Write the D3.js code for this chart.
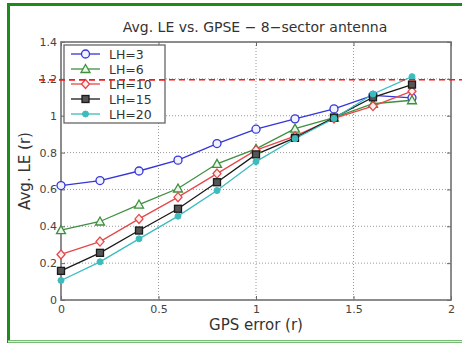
<!DOCTYPE html>
<html>
<head>
<meta charset="utf-8">
<script src="https://cdn.jsdelivr.net/npm/d3@7"></script>
<style>
  body { margin: 0; background: #fff; }
  svg { display: block; font-family: "DejaVu Sans", sans-serif; }
</style>
</head>
<body>
<svg id="chart" width="462" height="344"></svg>
<script>
// data
const gpsError = [0, 0.2, 0.4, 0.6, 0.8, 1.0, 1.2, 1.4, 1.6, 1.8];
const lh3  = [0.621, 0.648, 0.700, 0.759, 0.849, 0.927, 0.983, 1.037, 1.110, 1.097];
const lh6  = [0.379, 0.426, 0.518, 0.605, 0.739, 0.820, 0.930, 0.990, 1.065, 1.084];
const lh10 = [0.247, 0.317, 0.440, 0.558, 0.686, 0.813, 0.889, 0.985, 1.052, 1.133];
const lh15 = [0.158, 0.256, 0.377, 0.495, 0.639, 0.790, 0.880, 0.990, 1.100, 1.169];
const lh20 = [0.106, 0.207, 0.332, 0.455, 0.594, 0.751, 0.875, 0.985, 1.118, 1.212];
const threshold = 1.195;
const xTicks = [0, 0.5, 1, 1.5, 2];
const yTicks = [0, 0.2, 0.4, 0.6, 0.8, 1, 1.2, 1.4];

const series = [
  { name: 'LH=3',  values: lh3,  color: '#3535d8', marker: 'circle' },
  { name: 'LH=6',  values: lh6,  color: '#3f8f3f', marker: 'triangle' },
  { name: 'LH=10', values: lh10, color: '#e5484a', marker: 'diamond' },
  { name: 'LH=15', values: lh15, color: '#1a1a1a', marker: 'square' },
  { name: 'LH=20', values: lh20, color: '#3cbcbc', marker: 'dot' }
];

const svg = d3.select('#chart');
const margin = { top: 42, right: 11, bottom: 44, left: 61 };
const width = 462 - margin.left - margin.right;
const height = 344 - margin.top - margin.bottom;

// green frame round the figure
svg.append('rect')
  .attr('x', 8.5).attr('y', 4.5)
  .attr('width', 470).attr('height', 337)
  .attr('fill', '#fff')
  .attr('stroke', '#1c8a1c')
  .attr('stroke-width', 3);
svg.append('line')
  .attr('x1', 8).attr('x2', 462).attr('y1', 341.5).attr('y2', 341.5)
  .attr('stroke', '#d8ecd8').attr('stroke-width', 2);

const g = svg.append('g').attr('transform', `translate(${margin.left},${margin.top})`);

const x = d3.scaleLinear().domain([0, 2]).range([0, width]);
const y = d3.scaleLinear().domain([0, 1.4]).range([height, 0]);

// dotted grid
g.append('g').selectAll('line')
  .data(xTicks.slice(1, -1))
  .join('line')
  .attr('x1', d => x(d)).attr('x2', d => x(d))
  .attr('y1', 0).attr('y2', height)
  .attr('stroke', '#9a9a9a').attr('stroke-width', 1)
  .attr('stroke-dasharray', '1,2');
g.append('g').selectAll('line')
  .data(yTicks.slice(1, -1))
  .join('line')
  .attr('x1', 0).attr('x2', width)
  .attr('y1', d => y(d)).attr('y2', d => y(d))
  .attr('stroke', '#9a9a9a').attr('stroke-width', 1)
  .attr('stroke-dasharray', '1,2');

// axes, ticks pointing inward
g.append('g').attr('transform', `translate(0,${height})`)
  .call(d3.axisBottom(x).tickValues(xTicks).tickSize(-4).tickPadding(5).tickFormat(d3.format('')));
g.append('g')
  .call(d3.axisLeft(y).tickValues(yTicks).tickSize(-4).tickPadding(4).tickFormat(d3.format('')));
g.append('g').call(d3.axisTop(x).tickValues(xTicks).tickSize(-4).tickFormat(''));
g.append('g').attr('transform', `translate(${width},0)`)
  .call(d3.axisRight(y).tickValues(yTicks).tickSize(-4).tickFormat(''));
g.selectAll('.domain').remove();
g.selectAll('.tick line').attr('stroke', '#666');
g.selectAll('.tick text').attr('fill', '#444').attr('font-size', 11).attr('font-family', '"DejaVu Sans", sans-serif');

g.append('rect')
  .attr('width', width).attr('height', height)
  .attr('fill', 'none').attr('stroke', '#707070').attr('stroke-width', 1.6);

// lines
const line = d3.line().x((d, i) => x(gpsError[i])).y(d => y(d));
series.forEach(s => {
  g.append('path')
    .datum(s.values)
    .attr('fill', 'none')
    .attr('stroke', s.color)
    .attr('stroke-width', 1.3)
    .attr('d', line);
});

function drawMarker(sel, s, cx, cy) {
  const m = sel.append('g').attr('transform', `translate(${cx},${cy})`);
  if (s.marker === 'circle') {
    m.append('circle').attr('r', 4).attr('fill', '#f2f2ff').attr('stroke', s.color).attr('stroke-width', 1.3);
  } else if (s.marker === 'triangle') {
    m.append('path').attr('d', 'M0,-4.5L4.5,3.5L-4.5,3.5Z').attr('fill', '#eaf5ea').attr('stroke', s.color).attr('stroke-width', 1.3);
  } else if (s.marker === 'diamond') {
    m.append('path').attr('d', 'M0,-4.5L4,0L0,4.5L-4,0Z').attr('fill', '#fdeeee').attr('stroke', s.color).attr('stroke-width', 1.3);
  } else if (s.marker === 'square') {
    m.append('rect').attr('x', -3.5).attr('y', -3.5).attr('width', 7).attr('height', 7)
      .attr('fill', '#555').attr('stroke', s.color).attr('stroke-width', 1.3);
  } else {
    m.append('circle').attr('r', 3).attr('fill', s.color).attr('stroke', s.color);
  }
}

series.forEach(s => {
  s.values.forEach((v, i) => drawMarker(g, s, x(gpsError[i]), y(v)));
});

// red dashed threshold, runs past the axes on both sides
svg.append('line')
  .attr('x1', 39).attr('x2', 462)
  .attr('y1', margin.top + y(threshold)).attr('y2', margin.top + y(threshold))
  .attr('stroke', '#ee1c1c').attr('stroke-width', 1.6)
  .attr('stroke-dasharray', '6,4');

// legend
const legend = g.append('g').attr('transform', 'translate(3,3)');
legend.append('rect')
  .attr('width', 101).attr('height', 78)
  .attr('fill', '#fff').attr('stroke', '#666').attr('stroke-width', 1.3);
series.forEach((s, i) => {
  const ly = 9 + i * 15;
  legend.append('line')
    .attr('x1', 7).attr('x2', 36).attr('y1', ly).attr('y2', ly)
    .attr('stroke', s.color).attr('stroke-width', 1.3);
  drawMarker(legend, s, 21.5, ly);
  legend.append('text')
    .attr('x', 45).attr('y', ly + 5)
    .attr('font-size', 12.5).attr('fill', '#333')
    .text(s.name);
});
// the dash is drawn again over the legend where it crosses
svg.append('line')
  .attr('x1', 39).attr('x2', 166)
  .attr('y1', margin.top + y(threshold)).attr('y2', margin.top + y(threshold))
  .attr('stroke', '#ee1c1c').attr('stroke-width', 1.6)
  .attr('stroke-dasharray', '6,4');

// title and axis labels
svg.append('text')
  .attr('x', margin.left + width / 2 - 1).attr('y', 32)
  .attr('text-anchor', 'middle').attr('font-size', 14).attr('fill', '#333')
  .text('Avg. LE vs. GPSE \u2212 8\u2212sector antenna');
svg.append('text')
  .attr('x', margin.left + width / 2).attr('y', 330)
  .attr('text-anchor', 'middle').attr('font-size', 15).attr('fill', '#333')
  .text('GPS error (r)');
svg.append('text')
  .attr('transform', `translate(30,${margin.top + height / 2}) rotate(-90)`)
  .attr('text-anchor', 'middle').attr('font-size', 15).attr('fill', '#333')
  .text('Avg. LE (r)');
</script>
</body>
</html>
